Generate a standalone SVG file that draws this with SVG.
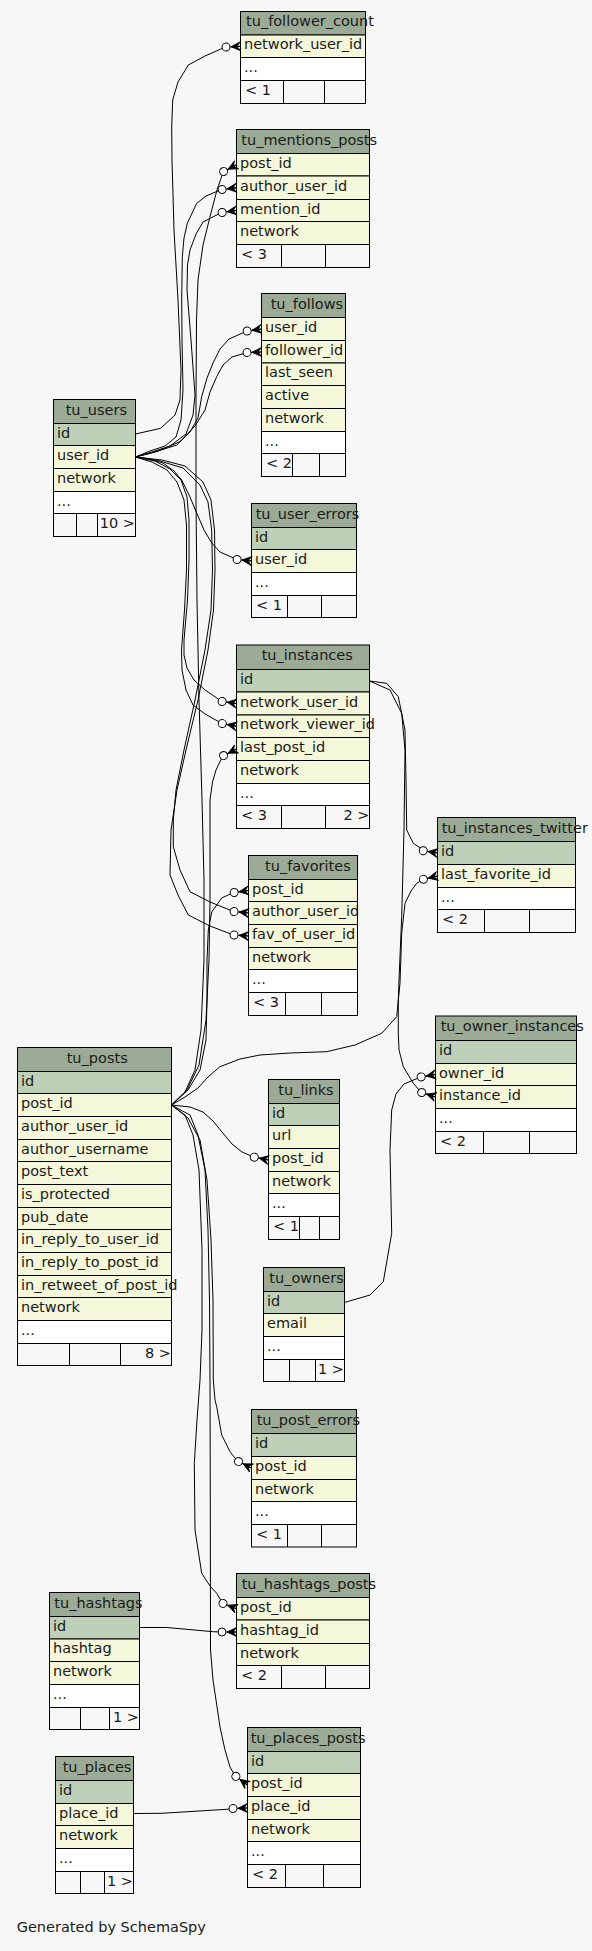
<svg xmlns="http://www.w3.org/2000/svg" width="592" height="1951" viewBox="0 0 592 1951">
<style>
.h{fill:#9bab96;stroke:#000;stroke-width:1}
.k{fill:#bed1b8;stroke:#000;stroke-width:1}
.c{fill:#f4f7da;stroke:#000;stroke-width:1}
.e{fill:#ffffff;stroke:#000;stroke-width:1}
.f{fill:#f7f7f7;stroke:#000;stroke-width:1}
.s{fill:none;stroke:#000;stroke-width:1}
text{font-family:"DejaVu Sans","Liberation Sans",sans-serif;font-size:14.5px;fill:#1a1a1a}
.r{text-anchor:end}
#connectors path{fill:none;stroke:#000;stroke-width:1;marker-end:url(#crowodot)}
</style>
<defs>
<marker id="crowodot" markerUnits="userSpaceOnUse" orient="auto" viewBox="-20 -10 30 20" refX="0" refY="0" markerWidth="30" markerHeight="20" overflow="visible">
<polygon points="-9.5,0 0,-4.5 -3.5,0 0,4.5" fill="#000" stroke="#000" stroke-width="0.8" stroke-linejoin="round"/>
<path d="M-9.5,0H0" stroke="#000" stroke-width="1"/>
<circle cx="-14.5" cy="0" r="4" fill="#fff" stroke="#000" stroke-width="1"/>
</marker>
</defs>
<rect x="0" y="0" width="592" height="1951" fill="#f7f7f7"/>

<g id="tu_follower_count">
<rect class="h" x="240.5" y="11.5" width="125" height="23.5"/>
<rect class="c" x="240.5" y="35" width="125" height="22.5"/>
<rect class="e" x="240.5" y="57.5" width="125" height="23"/>
<rect class="f" x="240.5" y="80.5" width="125" height="23"/>
<path class="s" d="M283.5,80.5V103.5M324.5,80.5V103.5"/>
<text x="246" y="26.3">tu_follower_count</text>
<text x="244" y="49.3">network_user_id</text>
<text x="244" y="72">...</text>
<text x="245" y="95">&lt; 1</text>
</g>

<g id="tu_mentions_posts">
<rect class="h" x="236.5" y="129.5" width="133" height="24"/>
<rect class="c" x="236.5" y="153.5" width="133" height="22.5"/>
<rect class="c" x="236.5" y="176" width="133" height="23.5"/>
<rect class="c" x="236.5" y="199.5" width="133" height="22"/>
<rect class="c" x="236.5" y="221.5" width="133" height="23"/>
<rect class="f" x="236.5" y="244.5" width="133" height="23"/>
<path class="s" d="M281.5,244.5V267.5M325.5,244.5V267.5"/>
<text x="241.3" y="144.5">tu_mentions_posts</text>
<text x="240" y="167.8">post_id</text>
<text x="240" y="190.8">author_user_id</text>
<text x="240" y="213.5">mention_id</text>
<text x="240" y="236">network</text>
<text x="241" y="259">&lt; 3</text>
</g>

<g id="tu_follows">
<rect class="h" x="261.5" y="293.5" width="84" height="24"/>
<rect class="c" x="261.5" y="317.5" width="84" height="23"/>
<rect class="c" x="261.5" y="340.5" width="84" height="22.5"/>
<rect class="c" x="261.5" y="363" width="84" height="22.5"/>
<rect class="c" x="261.5" y="385.5" width="84" height="23"/>
<rect class="c" x="261.5" y="408.5" width="84" height="23"/>
<rect class="e" x="261.5" y="431.5" width="84" height="22"/>
<rect class="f" x="261.5" y="453.5" width="84" height="23"/>
<path class="s" d="M292.5,453.5V476.5M319.5,453.5V476.5"/>
<text x="270.7" y="308.5">tu_follows</text>
<text x="265" y="332">user_id</text>
<text x="265" y="354.8">follower_id</text>
<text x="265" y="377.3">last_seen</text>
<text x="265" y="400">active</text>
<text x="265" y="423">network</text>
<text x="265" y="445.5">...</text>
<text x="266" y="468">&lt; 2</text>
</g>

<g id="tu_users">
<rect class="h" x="53.5" y="399.5" width="82" height="24"/>
<rect class="k" x="53.5" y="423.5" width="82" height="22"/>
<rect class="c" x="53.5" y="445.5" width="82" height="23"/>
<rect class="c" x="53.5" y="468.5" width="82" height="23"/>
<rect class="e" x="53.5" y="491.5" width="82" height="22"/>
<rect class="f" x="53.5" y="513.5" width="82" height="23"/>
<path class="s" d="M76.5,513.5V536.5M97.5,513.5V536.5"/>
<text x="65.7" y="414.5">tu_users</text>
<text x="57" y="437.5">id</text>
<text x="57" y="460">user_id</text>
<text x="57" y="483">network</text>
<text x="57" y="505.5">...</text>
<text class="r" x="135" y="528">10 &gt;</text>
</g>

<g id="tu_user_errors">
<rect class="h" x="251.5" y="503.5" width="105" height="24"/>
<rect class="k" x="251.5" y="527.5" width="105" height="22"/>
<rect class="c" x="251.5" y="549.5" width="105" height="23"/>
<rect class="e" x="251.5" y="572.5" width="105" height="23"/>
<rect class="f" x="251.5" y="595.5" width="105" height="22"/>
<path class="s" d="M287.5,595.5V617.5M321.5,595.5V617.5"/>
<text x="255.7" y="518.5">tu_user_errors</text>
<text x="255" y="541.5">id</text>
<text x="255" y="564">user_id</text>
<text x="255" y="587">...</text>
<text x="256" y="609.5">&lt; 1</text>
</g>

<g id="tu_instances">
<rect class="h" x="236.5" y="645" width="133" height="24.5"/>
<rect class="k" x="236.5" y="669.5" width="133" height="22.5"/>
<rect class="c" x="236.5" y="692" width="133" height="23"/>
<rect class="c" x="236.5" y="715" width="133" height="22.5"/>
<rect class="c" x="236.5" y="737.5" width="133" height="23"/>
<rect class="c" x="236.5" y="760.5" width="133" height="23"/>
<rect class="e" x="236.5" y="783.5" width="133" height="22"/>
<rect class="f" x="236.5" y="805.5" width="133" height="23"/>
<path class="s" d="M281.5,805.5V828.5M325.5,805.5V828.5"/>
<text x="261.7" y="660.3">tu_instances</text>
<text x="240" y="683.8">id</text>
<text x="240" y="706.5">network_user_id</text>
<text x="240" y="729.3">network_viewer_id</text>
<text x="240" y="752">last_post_id</text>
<text x="240" y="775">network</text>
<text x="240" y="797.5">...</text>
<text x="241" y="820">&lt; 3</text>
<text class="r" x="369.5" y="820">2 &gt;</text>
</g>

<g id="tu_instances_twitter">
<rect class="h" x="437.5" y="817.5" width="138" height="24"/>
<rect class="k" x="437.5" y="841.5" width="138" height="23"/>
<rect class="c" x="437.5" y="864.5" width="138" height="23"/>
<rect class="e" x="437.5" y="887.5" width="138" height="22"/>
<rect class="f" x="437.5" y="909.5" width="138" height="23"/>
<path class="s" d="M484.5,909.5V932.5M529.5,909.5V932.5"/>
<text x="441.7" y="832.5">tu_instances_twitter</text>
<text x="441" y="856">id</text>
<text x="441" y="879">last_favorite_id</text>
<text x="441" y="901.5">...</text>
<text x="442" y="924">&lt; 2</text>
</g>

<g id="tu_favorites">
<rect class="h" x="248.5" y="855.5" width="109" height="24"/>
<rect class="c" x="248.5" y="879.5" width="109" height="22"/>
<rect class="c" x="248.5" y="901.5" width="109" height="23"/>
<rect class="c" x="248.5" y="924.5" width="109" height="23"/>
<rect class="c" x="248.5" y="947.5" width="109" height="22"/>
<rect class="e" x="248.5" y="969.5" width="109" height="23"/>
<rect class="f" x="248.5" y="992.5" width="109" height="23"/>
<path class="s" d="M285.5,992.5V1015.5M321.5,992.5V1015.5"/>
<text x="265" y="870.5">tu_favorites</text>
<text x="252" y="893.5">post_id</text>
<text x="252" y="916">author_user_id</text>
<text x="252" y="939">fav_of_user_id</text>
<text x="252" y="961.5">network</text>
<text x="252" y="984">...</text>
<text x="253" y="1007">&lt; 3</text>
</g>

<g id="tu_posts">
<rect class="h" x="17.5" y="1047.5" width="154" height="24"/>
<rect class="k" x="17.5" y="1071.5" width="154" height="22"/>
<rect class="c" x="17.5" y="1093.5" width="154" height="23"/>
<rect class="c" x="17.5" y="1116.5" width="154" height="23"/>
<rect class="c" x="17.5" y="1139.5" width="154" height="22"/>
<rect class="c" x="17.5" y="1161.5" width="154" height="23"/>
<rect class="c" x="17.5" y="1184.5" width="154" height="23"/>
<rect class="c" x="17.5" y="1207.5" width="154" height="22"/>
<rect class="c" x="17.5" y="1229.5" width="154" height="23"/>
<rect class="c" x="17.5" y="1252.5" width="154" height="23"/>
<rect class="c" x="17.5" y="1275.5" width="154" height="22"/>
<rect class="c" x="17.5" y="1297.5" width="154" height="23"/>
<rect class="e" x="17.5" y="1320.5" width="154" height="23"/>
<rect class="f" x="17.5" y="1343.5" width="154" height="22"/>
<path class="s" d="M69.5,1343.5V1365.5M120.5,1343.5V1365.5"/>
<text x="66.7" y="1062.5">tu_posts</text>
<text x="21" y="1085.5">id</text>
<text x="21" y="1108">post_id</text>
<text x="21" y="1131">author_user_id</text>
<text x="21" y="1153.5">author_username</text>
<text x="21" y="1176">post_text</text>
<text x="21" y="1199">is_protected</text>
<text x="21" y="1221.5">pub_date</text>
<text x="21" y="1244">in_reply_to_user_id</text>
<text x="21" y="1267">in_reply_to_post_id</text>
<text x="21" y="1289.5">in_retweet_of_post_id</text>
<text x="21" y="1312">network</text>
<text x="21" y="1335">...</text>
<text class="r" x="171" y="1357.5">8 &gt;</text>
</g>

<g id="tu_links">
<rect class="h" x="268.5" y="1079.5" width="71" height="24"/>
<rect class="k" x="268.5" y="1103.5" width="71" height="22"/>
<rect class="c" x="268.5" y="1125.5" width="71" height="23"/>
<rect class="c" x="268.5" y="1148.5" width="71" height="23"/>
<rect class="c" x="268.5" y="1171.5" width="71" height="22"/>
<rect class="e" x="268.5" y="1193.5" width="71" height="23"/>
<rect class="f" x="268.5" y="1216.5" width="71" height="23"/>
<path class="s" d="M299.5,1216.5V1239.5M319.5,1216.5V1239.5"/>
<text x="278.3" y="1094.5">tu_links</text>
<text x="272" y="1117.5">id</text>
<text x="272" y="1140">url</text>
<text x="272" y="1163">post_id</text>
<text x="272" y="1185.5">network</text>
<text x="272" y="1208">...</text>
<text x="273" y="1231">&lt; 1</text>
</g>

<g id="tu_owners">
<rect class="h" x="263.5" y="1267.5" width="81" height="24"/>
<rect class="k" x="263.5" y="1291.5" width="81" height="22"/>
<rect class="c" x="263.5" y="1313.5" width="81" height="23"/>
<rect class="e" x="263.5" y="1336.5" width="81" height="23"/>
<rect class="f" x="263.5" y="1359.5" width="81" height="22"/>
<path class="s" d="M289.5,1359.5V1381.5M315.5,1359.5V1381.5"/>
<text x="269.3" y="1282.5">tu_owners</text>
<text x="267" y="1305.5">id</text>
<text x="267" y="1328">email</text>
<text x="267" y="1351">...</text>
<text class="r" x="344" y="1373.5">1 &gt;</text>
</g>

<g id="tu_owner_instances">
<rect class="h" x="435.5" y="1016" width="141" height="24.5"/>
<rect class="k" x="435.5" y="1040.5" width="141" height="23"/>
<rect class="c" x="435.5" y="1063.5" width="141" height="22"/>
<rect class="c" x="435.5" y="1085.5" width="141" height="23"/>
<rect class="e" x="435.5" y="1108.5" width="141" height="23"/>
<rect class="f" x="435.5" y="1131.5" width="141" height="22"/>
<path class="s" d="M483.5,1131.5V1153.5M529.5,1131.5V1153.5"/>
<text x="440.7" y="1031.3">tu_owner_instances</text>
<text x="439" y="1055">id</text>
<text x="439" y="1077.5">owner_id</text>
<text x="439" y="1100">instance_id</text>
<text x="439" y="1123">...</text>
<text x="440" y="1145.5">&lt; 2</text>
</g>

<g id="tu_post_errors">
<rect class="h" x="251.5" y="1409.5" width="105" height="24"/>
<rect class="k" x="251.5" y="1433.5" width="105" height="23"/>
<rect class="c" x="251.5" y="1456.5" width="105" height="23"/>
<rect class="c" x="251.5" y="1479.5" width="105" height="22"/>
<rect class="e" x="251.5" y="1501.5" width="105" height="23"/>
<rect class="f" x="251.5" y="1524.5" width="105" height="22.5"/>
<path class="s" d="M287.5,1524.5V1547M321.5,1524.5V1547"/>
<text x="256.7" y="1424.5">tu_post_errors</text>
<text x="255" y="1448">id</text>
<text x="255" y="1471">post_id</text>
<text x="255" y="1493.5">network</text>
<text x="255" y="1516">...</text>
<text x="256" y="1538.8">&lt; 1</text>
</g>

<g id="tu_hashtags_posts">
<rect class="h" x="236.5" y="1573.5" width="133" height="24"/>
<rect class="c" x="236.5" y="1597.5" width="133" height="22.5"/>
<rect class="c" x="236.5" y="1620" width="133" height="23.5"/>
<rect class="c" x="236.5" y="1643.5" width="133" height="22"/>
<rect class="f" x="236.5" y="1665.5" width="133" height="23"/>
<path class="s" d="M281.5,1665.5V1688.5M325.5,1665.5V1688.5"/>
<text x="241.7" y="1588.5">tu_hashtags_posts</text>
<text x="240" y="1611.8">post_id</text>
<text x="240" y="1634.8">hashtag_id</text>
<text x="240" y="1657.5">network</text>
<text x="241" y="1680">&lt; 2</text>
</g>

<g id="tu_hashtags">
<rect class="h" x="49.5" y="1592.5" width="90" height="24"/>
<rect class="k" x="49.5" y="1616.5" width="90" height="22.5"/>
<rect class="c" x="49.5" y="1639" width="90" height="22.5"/>
<rect class="c" x="49.5" y="1661.5" width="90" height="23"/>
<rect class="e" x="49.5" y="1684.5" width="90" height="23"/>
<rect class="f" x="49.5" y="1707.5" width="90" height="22"/>
<path class="s" d="M80.5,1707.5V1729.5M109.5,1707.5V1729.5"/>
<text x="54.3" y="1607.5">tu_hashtags</text>
<text x="53" y="1630.8">id</text>
<text x="53" y="1653.3">hashtag</text>
<text x="53" y="1676">network</text>
<text x="53" y="1699">...</text>
<text class="r" x="139" y="1721.5">1 &gt;</text>
</g>

<g id="tu_places_posts">
<rect class="h" x="247.5" y="1727.5" width="113" height="24"/>
<rect class="k" x="247.5" y="1751.5" width="113" height="22"/>
<rect class="c" x="247.5" y="1773.5" width="113" height="23"/>
<rect class="c" x="247.5" y="1796.5" width="113" height="23"/>
<rect class="c" x="247.5" y="1819.5" width="113" height="22"/>
<rect class="e" x="247.5" y="1841.5" width="113" height="23"/>
<rect class="f" x="247.5" y="1864.5" width="113" height="23"/>
<path class="s" d="M285.5,1864.5V1887.5M323.5,1864.5V1887.5"/>
<text x="250.7" y="1742.5">tu_places_posts</text>
<text x="251" y="1765.5">id</text>
<text x="251" y="1788">post_id</text>
<text x="251" y="1811">place_id</text>
<text x="251" y="1833.5">network</text>
<text x="251" y="1856">...</text>
<text x="252" y="1879">&lt; 2</text>
</g>

<g id="tu_places">
<rect class="h" x="55.5" y="1756.5" width="78" height="24"/>
<rect class="k" x="55.5" y="1780.5" width="78" height="23"/>
<rect class="c" x="55.5" y="1803.5" width="78" height="22"/>
<rect class="c" x="55.5" y="1825.5" width="78" height="23"/>
<rect class="e" x="55.5" y="1848.5" width="78" height="23"/>
<rect class="f" x="55.5" y="1871.5" width="78" height="22"/>
<path class="s" d="M80.5,1871.5V1893.5M104.5,1871.5V1893.5"/>
<text x="62.7" y="1771.5">tu_places</text>
<text x="59" y="1795">id</text>
<text x="59" y="1817.5">place_id</text>
<text x="59" y="1840">network</text>
<text x="59" y="1863">...</text>
<text class="r" x="133" y="1885.5">1 &gt;</text>
</g>

<g id="connectors">
<path d="M135.5,434 L160.7,428.3 L175,415 L180,400 L181,370 L178,300 L174,230 L172,160 L171.7,127 L172.7,100 L178,82 L188.3,65 L205,56 L225.5,47 L240.5,46.3"/>
<path d="M135.5,457 L150,451 L165,446 L176,437 L181,420 L183,390 L182,340 L181.7,300 L182.3,256.7 L184,238 L187.3,223.3 L196.7,203.3 L206,196 L221.5,189.5 L236.5,187.8"/>
<path d="M135.5,457 L152,452 L170,446 L186,434 L193,415 L195,395 L191,340 L187,290 L187.5,265 L190,250 L196,234 L203,222 L221.5,212.5 L236.5,210.5"/>
<path d="M171.5,1105 L185,1092 L195,1070 L201,1030 L204,960 L204,880 L202,800 L199,700 L197,600 L196,500 L196,400 L196.5,320 L198,280 L203,245 L210,216.7 L217,190 L223.3,171.7 L236.5,164.8"/>
<path d="M135.5,457 L155,452 L176.7,445 L190,432 L198,418 L201.7,396.7 L207,378 L213,363 L220,349 L229,339 L247,331 L261.5,329"/>
<path d="M135.5,457 L158,451 L180,441.7 L195,426 L205,410 L210,392 L216.7,376.7 L223,365 L232,357 L247,352.5 L261.5,352"/>
<path d="M135.5,457 L150,459 L163,463 L174,471 L181.7,480 L190,497 L196.7,513 L204,530 L211.7,543 L220,552 L237,559.5 L251.5,561"/>
<path d="M135.5,457 L155,461 L170,469 L181,480 L187,497 L189,520 L189,560 L187.5,600 L184,640 L184,655 L187,668 L194,680 L205,690 L222,701.5 L236.5,703.5"/>
<path d="M135.5,457 L152,462 L167,470 L177,482 L184,500 L186.5,525 L186.5,570 L184.5,610 L181.5,650 L182,670 L186,690 L193,705 L205,714 L222,723.5 L236.5,726.3"/>
<path d="M171.5,1105 L187,1090 L199,1065 L206,1020 L209,960 L210,900 L210,840 L210,800 L212.5,782 L216,770 L222.7,756 L236.5,749"/>
<path d="M369.5,681 L386.7,683.3 L398.3,696.7 L405,730 L406,780 L406.7,830 L413.3,843.3 L425,851 L437.5,853"/>
<path d="M369.5,681 L390,690 L401.7,713.3 L405,750 L404,830 L401.7,916.7 L399,980 L398.3,1000 L398.3,1033 L399,1050 L403.3,1066.7 L413.3,1083.3 L421,1092.3 L435.5,1097"/>
<path d="M171.5,1105 L185,1097 L198,1088 L208,1077 L220,1066.7 L240,1059 L260,1055 L290,1053 L326.7,1051.7 L355,1045 L381.7,1033.3 L396.7,1016.7 L400,983.3 L401.7,933.3 L405,903.3 L411,891 L416.7,883.3 L423.3,879.3 L437.5,876"/>
<path d="M344.5,1302.5 L370,1295 L383.3,1281.7 L391.7,1233.3 L390,1150 L391.7,1110 L396,1094 L404,1084 L420.5,1077 L435.5,1074.5"/>
<path d="M171.5,1105 L188,1090 L200,1070 L206,1040 L207,1000 L207,960 L208.3,930 L211.7,912 L221.7,898 L233.5,892.5 L248.5,890.5"/>
<path d="M135.5,457 L160,461 L183,468 L200,485 L208,502 L211.7,530 L212.5,570 L211,610 L205,650 L195,700 L184,750 L176,790 L173.3,820 L173.3,846.7 L180,870 L190,891.7 L210,902 L233.5,911.5 L248.5,913"/>
<path d="M135.5,457 L162,460 L185,466 L203,482 L211,500 L214.5,530 L215,570 L213.5,610 L208,650 L198,700 L186,750 L177,790 L171,830 L170,875 L178,895 L188.3,915 L210,926 L233.5,935 L248.5,936"/>
<path d="M171.5,1105 L190,1107 L203,1112 L213,1121 L222,1132 L232,1144 L242,1152 L253.5,1157 L268.5,1160"/>
<path d="M171.5,1105 L188,1118 L200,1140 L207,1180 L211,1240 L213,1300 L213.3,1380 L215,1400 L216.7,1406.7 L221.7,1435 L230,1451.7 L237.3,1461 L251.5,1468"/>
<path d="M171.5,1105 L185,1115 L193,1135 L199,1170 L202,1250 L202,1330 L200,1380 L197,1420 L194.3,1463.3 L195,1530 L201.7,1573.3 L210,1586 L216.7,1593.3 L222.7,1603.3 L236.5,1608.7"/>
<path d="M171.5,1105 L190,1115 L198,1135 L205,1170 L208,1230 L209.5,1300 L210,1380 L210.3,1500 L210.5,1650 L213,1680 L216,1700 L220,1727 L225,1750 L230,1767 L235,1775.7 L247.5,1785"/>
<path d="M139.5,1627.5 L166.7,1627.5 L213.3,1631.7 L221.5,1632 L236.5,1632"/>
<path d="M133.5,1813.5 L161.7,1813.3 L226.7,1809.3 L232.5,1808.5 L247.5,1808"/>
</g>

<text x="16.7" y="1931.5">Generated by SchemaSpy</text>
</svg>
